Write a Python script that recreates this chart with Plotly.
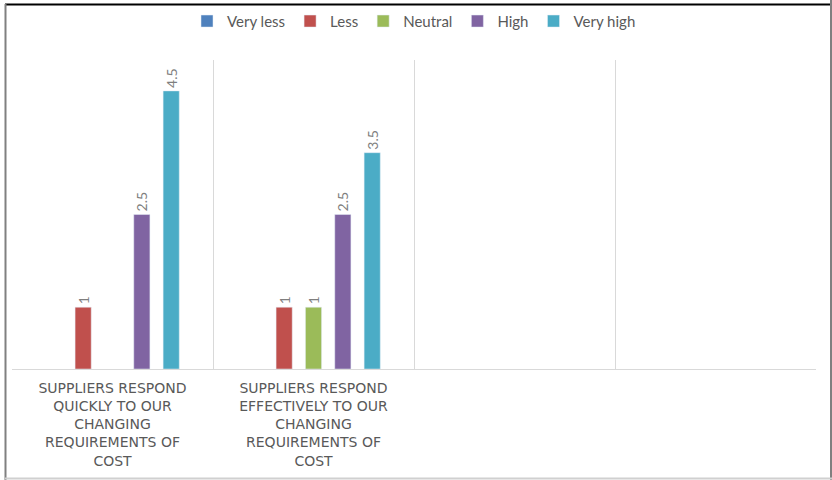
import plotly.graph_objects as go

categories = [
    "SUPPLIERS RESPOND<br>QUICKLY TO OUR<br>CHANGING<br>REQUIREMENTS OF<br>COST",
    "SUPPLIERS RESPOND<br>EFFECTIVELY TO OUR<br>CHANGING<br>REQUIREMENTS OF<br>COST",
    "",
    "",
]
cat_keys = ["c1", "c2", "c3", "c4"]

series_names = ["Very less", "Less", "Neutral", "High", "Very high"]
very_less = [None, None, None, None]
less = [1, 1, None, None]
neutral = [None, 1, None, None]
high = [2.5, 2.5, None, None]
very_high = [4.5, 3.5, None, None]
series_values = [very_less, less, neutral, high, very_high]
colors = ["#4F81BD", "#C0504D", "#9BBB59", "#8064A2", "#4BACC6"]

W, H = 832, 480
L, R, T, B = 12, 16, 60, 111
pw, ph = W - L - R, H - T - B

fig = go.Figure()
for name, vals, col in zip(series_names, series_values, colors):
    fig.add_trace(go.Bar(
        x=cat_keys, y=vals, name=name, marker_color=col,
        text=[("%g" % v) if v else None for v in vals],
        textposition="outside", textangle=-90, constraintext="none",
        textfont=dict(color="#7f7f7f", size=14, family="Lato"),
        cliponaxis=False,
    ))

def px_x(p):
    return (p - L) / pw

def px_y(p):
    return (H - B - p) / ph

shapes = [
    dict(type="line", xref="paper", yref="paper", x0=px_x(5), x1=px_x(832), y0=px_y(4.5), y1=px_y(4.5),
         line=dict(color="#000000", width=2)),
    dict(type="line", xref="paper", yref="paper", x0=px_x(5.5), x1=px_x(5.5), y0=px_y(4), y1=px_y(480),
         line=dict(color="#808080", width=2)),
    dict(type="line", xref="paper", yref="paper", x0=px_x(831), x1=px_x(831), y0=px_y(0), y1=px_y(480),
         line=dict(color="#808080", width=2)),
    dict(type="line", xref="paper", yref="paper", x0=px_x(5), x1=px_x(832), y0=px_y(478.5), y1=px_y(478.5),
         line=dict(color="#d0d0d0", width=2)),
]

fig.update_layout(
    width=W, height=H,
    margin=dict(l=L, r=R, t=T, b=B),
    paper_bgcolor="white", plot_bgcolor="white",
    barmode="group", bargap=0.27, bargroupgap=0.45,
    font=dict(family="Lato", color="#595959"),
    legend=dict(orientation="h", x=0.5, xanchor="center", y=0.99, yref="container", yanchor="top",
                bgcolor="rgba(0,0,0,0)",
                font=dict(size=15, color="#595959", family="Lato"), itemwidth=30,
                traceorder="normal", tracegroupgap=0),
    xaxis=dict(
        type="category", categoryorder="array", categoryarray=cat_keys,
        tickvals=cat_keys, ticktext=categories, tickangle=0,
        tickson="boundaries", ticks="", showgrid=True, gridcolor="#d9d9d9", gridwidth=1,
        showline=True, linecolor="#d9d9d9", linewidth=1,
        tickfont=dict(size=14, color="#595959", family="DejaVu Sans"),
        ticklabelstandoff=6,
        fixedrange=True,
    ),
    yaxis=dict(range=[0, 5], showgrid=False, showticklabels=False, zeroline=False, showline=False,
               fixedrange=True),
    shapes=shapes,
    showlegend=True,
)

fig.write_html("out.html")
